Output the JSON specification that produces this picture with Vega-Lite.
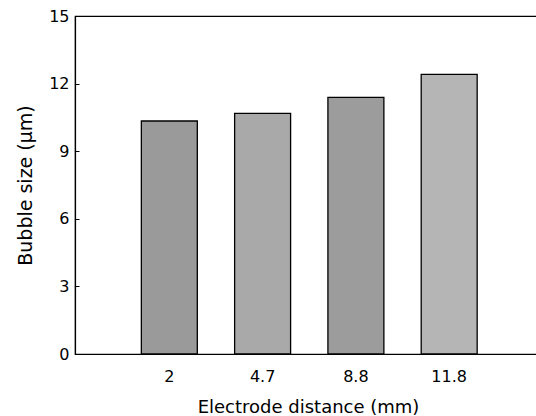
{
  "$schema": "https://vega.github.io/schema/vega-lite/v6.json",
  "width": 464,
  "height": 338,
  "autosize": {"type": "none"},
  "padding": {"left": 75, "top": 16, "right": 0, "bottom": 62},
  "background": "white",
  "config": {
    "view": {"stroke": "black", "strokeWidth": 1.2},
    "font": "DejaVu Sans",
    "axis": {
      "domainColor": "black",
      "domainWidth": 1.2,
      "tickColor": "black",
      "labelColor": "black",
      "titleColor": "black",
      "grid": false,
      "labelFont": "DejaVu Sans",
      "titleFont": "DejaVu Sans",
      "labelFontWeight": "normal",
      "titleFontWeight": "normal"
    }
  },
  "data": {
    "values": [
      {"distance": "2", "size": 10.34},
      {"distance": "4.7", "size": 10.68},
      {"distance": "8.8", "size": 11.39},
      {"distance": "11.8", "size": 12.41}
    ]
  },
  "mark": {"type": "bar", "stroke": "black", "strokeWidth": 1.3, "opacity": 1},
  "encoding": {
    "x": {
      "field": "distance",
      "type": "ordinal",
      "sort": null,
      "scale": {"paddingInner": 0.4, "paddingOuter": 0.687, "align": 0.5176},
      "axis": {
        "title": "Electrode distance (mm)",
        "labelAngle": 0,
        "ticks": false,
        "labelFontSize": 16,
        "labelPadding": 14,
        "titleFontSize": 18,
        "titleBaseline": "alphabetic",
        "titleY": 58,
        "titleX": 233
      }
    },
    "y": {
      "field": "size",
      "type": "quantitative",
      "scale": {"domain": [0, 15], "nice": false},
      "axis": {
        "title": "Bubble size (μm)",
        "values": [0, 3, 6, 9, 12, 15],
        "tickSize": -4,
        "tickWidth": 1,
        "labelFontSize": 16,
        "labelPadding": 10,
        "titleFontSize": 19,
        "titleAngle": -90,
        "titleBaseline": "middle",
        "titleX": -50,
        "titleY": 169
      }
    },
    "color": {
      "field": "distance",
      "type": "nominal",
      "sort": null,
      "scale": {"range": ["#9a9a9a", "#a9a9a9", "#9c9c9c", "#b5b5b5"]},
      "legend": null
    }
  }
}
